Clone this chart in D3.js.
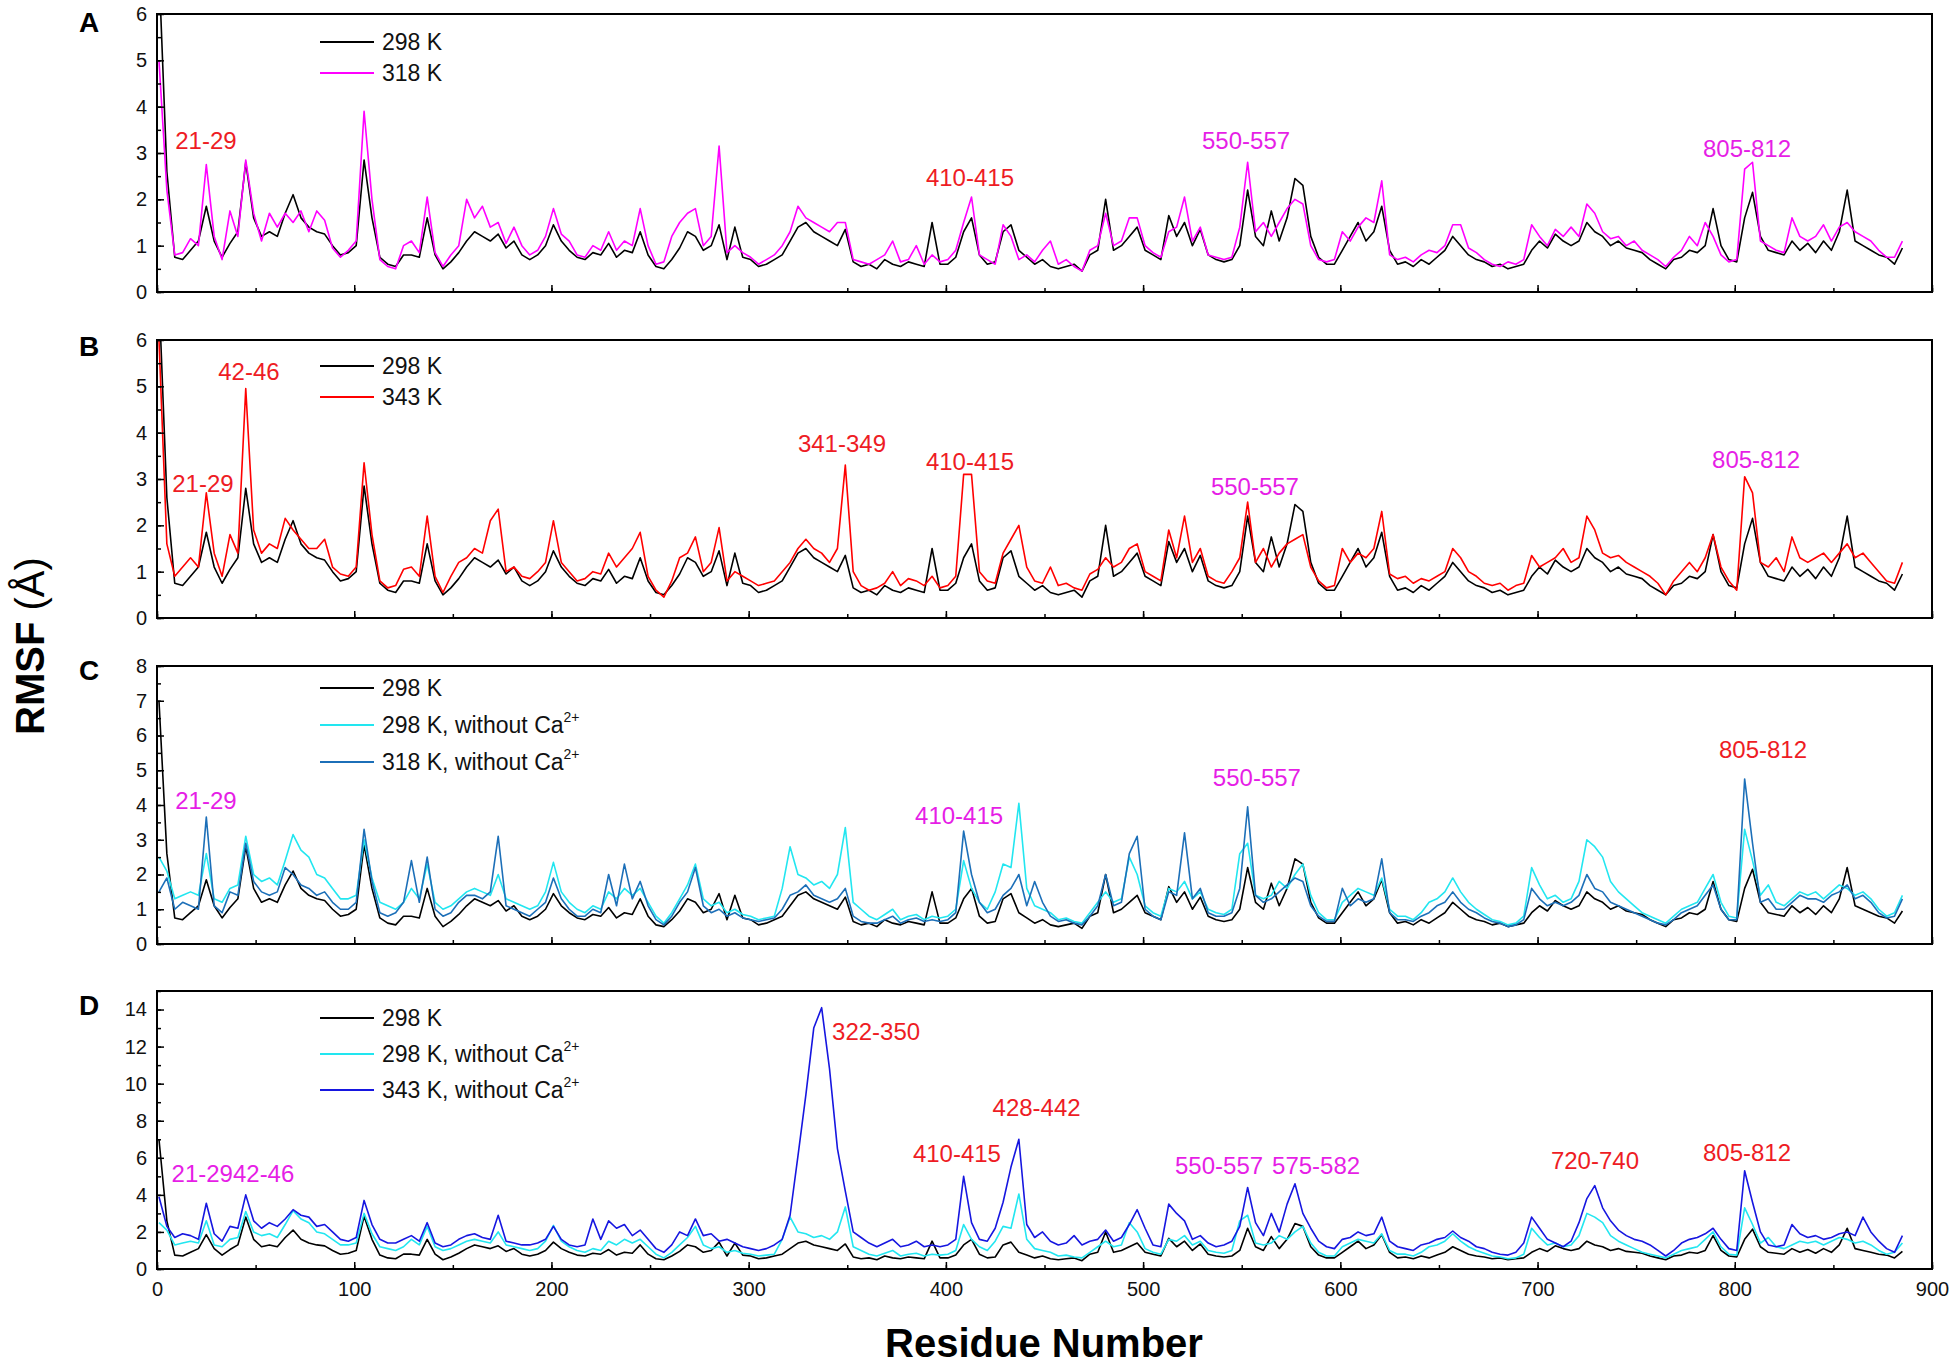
<!doctype html>
<html>
<head>
<meta charset="utf-8">
<script src="https://cdnjs.cloudflare.com/ajax/libs/d3/7.8.5/d3.min.js"></script>
<style>
  body { margin: 0; background: #fff; }
  svg { display: block; font-family: "Liberation Sans", Arial, Helvetica, sans-serif; }
  .tick line { stroke: #000; stroke-width: 1.5; }
</style>
</head>
<body>
<svg id="chart" width="1953" height="1365"></svg>
<script>
// samples are taken every 4th residue: 1, 5, 9 ... 885
var resStart = 1, resStep = 4;

var rmsf298 = [
  7.0, 2.6, 0.75, 0.7, 0.9, 1.1, 1.85, 1.1, 0.75, 1.05,
  1.3, 2.8, 1.6, 1.2, 1.3, 1.2, 1.7, 2.1, 1.6, 1.4,
  1.3, 1.25, 1.0, 0.8, 0.85, 1.0, 2.85, 1.6, 0.75, 0.6,
  0.55, 0.8, 0.8, 0.75, 1.6, 0.8, 0.5, 0.65, 0.85, 1.1,
  1.3, 1.2, 1.1, 1.25, 0.95, 1.1, 0.8, 0.7, 0.8, 1.0,
  1.45, 1.1, 0.9, 0.75, 0.7, 0.85, 0.8, 1.05, 0.75, 0.9,
  0.85, 1.3, 0.8, 0.55, 0.5, 0.7, 0.95, 1.3, 1.2, 0.9,
  1.0, 1.45, 0.7, 1.4, 0.75, 0.7, 0.55, 0.6, 0.7, 0.8,
  1.1, 1.4, 1.5, 1.3, 1.2, 1.1, 1.0, 1.35, 0.65, 0.55,
  0.6, 0.5, 0.7, 0.6, 0.55, 0.65, 0.6, 0.55, 1.5, 0.6,
  0.6, 0.75, 1.3, 1.6, 0.8, 0.6, 0.65, 1.3, 1.45, 0.9,
  0.75, 0.6, 0.7, 0.55, 0.5, 0.55, 0.6, 0.45, 0.8, 0.9,
  2.0, 0.9, 1.0, 1.2, 1.4, 0.9, 0.8, 0.7, 1.65, 1.2,
  1.5, 1.0, 1.35, 0.8, 0.7, 0.65, 0.7, 1.0, 2.2, 1.2,
  1.0, 1.75, 1.1, 1.6, 2.45, 2.3, 1.2, 0.75, 0.6, 0.6,
  0.9, 1.2, 1.5, 1.1, 1.3, 1.85, 0.9, 0.6, 0.65, 0.55,
  0.7, 0.6, 0.75, 0.9, 1.2, 1.0, 0.8, 0.7, 0.65, 0.55,
  0.6, 0.5, 0.55, 0.6, 0.9, 1.1, 0.95, 1.25, 1.1, 1.0,
  1.1, 1.5, 1.3, 1.2, 1.0, 1.1, 0.95, 0.9, 0.85, 0.7,
  0.6, 0.5, 0.7, 0.75, 0.9, 0.85, 1.0, 1.8, 1.0, 0.7,
  0.65, 1.6, 2.15, 1.2, 0.9, 0.85, 0.8, 1.1, 0.9, 1.05,
  0.85, 1.1, 0.9, 1.3, 2.2, 1.1, 1.0, 0.9, 0.8, 0.75,
  0.6, 0.95
];

var rmsf318 = [
  5.0, 2.2, 0.8, 0.85, 1.15, 1.0, 2.75, 1.2, 0.7, 1.75,
  1.2, 2.85, 1.7, 1.1, 1.7, 1.4, 1.7, 1.5, 1.75, 1.3,
  1.75, 1.55, 0.95, 0.75, 0.9, 1.1, 3.9, 2.0, 0.7, 0.55,
  0.5, 1.0, 1.1, 0.85, 2.05, 0.85, 0.55, 0.8, 1.0, 2.0,
  1.6, 1.85, 1.4, 1.5, 1.05, 1.4, 1.0, 0.8, 0.9, 1.2,
  1.8, 1.25, 1.1, 0.8, 0.75, 1.0, 0.9, 1.3, 0.9, 1.1,
  1.0, 1.8, 1.0, 0.6, 0.65, 1.2, 1.5, 1.7, 1.8, 1.0,
  1.2, 3.15, 0.85, 1.0, 0.85, 0.75, 0.6, 0.7, 0.8, 1.0,
  1.3, 1.85, 1.6, 1.5, 1.4, 1.3, 1.5, 1.5, 0.7, 0.65,
  0.6, 0.7, 0.8, 1.1, 0.65, 0.7, 1.0, 0.6, 0.8, 0.65,
  0.7, 0.9, 1.5, 2.05, 0.8, 0.7, 0.6, 1.45, 1.2, 0.7,
  0.8, 0.65, 0.9, 1.1, 0.6, 0.7, 0.55, 0.45, 0.9, 1.0,
  1.7, 1.0, 1.1, 1.6, 1.6, 1.0, 0.85, 0.75, 1.3, 1.4,
  2.05, 1.1, 1.4, 0.8, 0.75, 0.7, 0.75, 1.4, 2.8, 1.3,
  1.5, 1.2, 1.5, 1.8, 2.0, 1.9, 1.0, 0.7, 0.65, 0.7,
  1.3, 1.1, 1.4, 1.6, 1.5, 2.4, 0.8, 0.7, 0.75, 0.65,
  0.8, 0.9, 0.85, 1.0, 1.45, 1.45, 0.95, 0.85, 0.7, 0.6,
  0.55, 0.65, 0.6, 0.7, 1.45, 1.2, 1.0, 1.35, 1.2, 1.4,
  1.2, 1.9, 1.7, 1.3, 1.15, 1.2, 1.0, 1.1, 0.9, 0.8,
  0.7, 0.55, 0.75, 0.9, 1.2, 1.0, 1.5, 1.2, 0.8, 0.65,
  0.7, 2.65, 2.8, 1.1, 1.0, 0.9, 0.85, 1.6, 1.2, 1.1,
  1.2, 1.45, 1.1, 1.4, 1.5, 1.3, 1.2, 1.1, 0.9, 0.75,
  0.75, 1.1
];

var rmsf343 = [
  6.0, 1.6, 0.9, 1.1, 1.3, 1.1, 2.7, 1.4, 0.9, 1.8,
  1.4, 4.95, 1.9, 1.4, 1.6, 1.5, 2.15, 1.9, 1.7, 1.5,
  1.5, 1.7, 1.1, 0.95, 0.9, 1.1, 3.35, 1.8, 0.8, 0.65,
  0.7, 1.05, 1.1, 0.9, 2.2, 0.9, 0.55, 0.9, 1.2, 1.3,
  1.5, 1.4, 2.1, 2.35, 1.0, 1.1, 0.9, 0.85, 1.0, 1.2,
  2.1, 1.2, 1.0, 0.8, 0.85, 1.0, 0.95, 1.4, 1.1, 1.3,
  1.5, 1.85, 0.9, 0.6, 0.45, 0.8, 1.3, 1.4, 1.75, 1.0,
  1.2, 1.95, 0.8, 1.0, 0.9, 0.8, 0.7, 0.75, 0.8, 1.0,
  1.2, 1.5, 1.7, 1.5, 1.4, 1.2, 1.5, 3.3, 1.0, 0.7,
  0.6, 0.65, 0.75, 1.0, 0.7, 0.85, 0.8, 0.7, 0.9, 0.65,
  0.7, 0.9, 3.1, 3.1, 1.0, 0.8, 0.75, 1.4, 1.7, 2.0,
  1.1, 0.8, 0.75, 1.1, 0.7, 0.75, 0.65, 0.6, 0.95, 1.05,
  1.3, 1.1, 1.2, 1.5, 1.6, 1.0, 0.9, 0.8, 1.9, 1.3,
  2.2, 1.2, 1.5, 0.9, 0.8, 0.75, 1.0, 1.3, 2.5, 1.2,
  1.5, 1.1, 1.4, 1.6, 1.7, 1.8, 1.1, 0.8, 0.65, 0.7,
  1.5, 1.2, 1.4, 1.3, 1.5, 2.3, 0.95, 0.85, 0.9, 0.75,
  0.85, 0.8, 0.9, 1.0, 1.5, 1.3, 1.0, 0.9, 0.75, 0.7,
  0.75, 0.6, 0.7, 0.75, 1.35, 1.1, 1.2, 1.3, 1.5, 1.2,
  1.3, 2.2, 1.9, 1.4, 1.3, 1.35, 1.2, 1.1, 1.0, 0.9,
  0.75, 0.5, 0.8, 1.0, 1.2, 1.0, 1.3, 1.8, 1.1, 0.8,
  0.6, 3.05, 2.7, 1.2, 1.1, 1.3, 1.0, 1.75, 1.3, 1.2,
  1.3, 1.4, 1.2, 1.4, 1.6, 1.3, 1.4, 1.2, 1.0, 0.8,
  0.75, 1.2
];

var rmsf298NoCa = [
  2.5, 2.1, 1.3, 1.4, 1.5, 1.4, 2.6, 1.3, 1.2, 1.6,
  1.7, 3.1, 2.0, 1.8, 1.9, 1.7, 2.4, 3.15, 2.7, 2.5,
  2.0, 1.9, 1.6, 1.3, 1.3, 1.4, 3.0, 1.9, 1.2, 1.1,
  1.0, 1.2, 1.6, 1.3, 2.3, 1.2, 1.0, 1.1, 1.3, 1.5,
  1.6, 1.5, 1.4, 2.0, 1.3, 1.2, 1.1, 1.0, 1.1, 1.5,
  2.35, 1.5, 1.2, 1.0, 0.9, 1.1, 1.0, 1.5, 1.3, 1.6,
  1.4, 1.6, 1.2, 0.8, 0.6, 0.9, 1.3, 1.7, 2.3, 1.3,
  1.1, 1.2, 0.9, 1.0, 0.85, 0.8, 0.7, 0.75, 0.8, 1.6,
  2.8, 2.0, 1.9, 1.7, 1.8, 1.6, 2.0, 3.35, 1.2, 1.0,
  0.8, 0.7, 0.85, 1.0, 0.7, 0.8, 0.85, 0.7, 0.8, 0.75,
  0.8, 1.0, 2.4, 1.6, 1.2, 1.0, 1.5, 2.3, 2.2, 4.05,
  1.6, 1.1, 1.0, 0.9, 0.7, 0.75, 0.65, 0.6, 0.9, 1.2,
  1.5, 1.2, 1.3, 2.5, 2.0, 1.1, 0.9, 0.8, 1.6, 1.5,
  1.8, 1.3, 1.5, 1.0, 0.9, 0.85, 1.0, 2.6, 2.9, 1.4,
  1.3, 1.4, 1.8, 1.6, 2.0, 2.3, 1.4, 0.9, 0.7, 0.7,
  1.2, 1.4, 1.6, 1.5, 1.4, 1.9, 1.0, 0.8, 0.8, 0.7,
  0.9, 1.2, 1.3, 1.5, 1.9, 1.5, 1.2, 1.0, 0.85, 0.7,
  0.65, 0.55, 0.6, 0.8, 2.2, 1.7, 1.3, 1.4, 1.2, 1.3,
  1.8, 3.0, 2.8, 2.5, 1.8, 1.5, 1.3, 1.1, 0.9, 0.8,
  0.7, 0.6, 0.8, 1.0, 1.1, 1.2, 1.6, 2.0, 1.2, 0.8,
  0.75, 3.3, 2.4, 1.4, 1.7, 1.2, 1.1, 1.3, 1.5, 1.4,
  1.5, 1.3, 1.5, 1.7, 1.6, 1.4, 1.5, 1.3, 1.0, 0.8,
  0.9, 1.4
];

var rmsf318NoCa = [
  1.5, 1.9, 1.0, 1.2, 1.1, 1.0, 3.65, 1.1, 0.9, 1.5,
  1.4, 2.9, 1.8, 1.5, 1.4, 1.5, 2.2, 2.0, 1.7, 1.6,
  1.4, 1.5, 1.2, 1.0, 1.0, 1.2, 3.3, 1.8, 0.9, 0.8,
  0.9, 1.2, 2.4, 1.2, 2.5, 1.0, 0.8, 0.9, 1.2, 1.4,
  1.4, 1.3, 1.5, 3.1, 1.1, 1.0, 0.9, 0.8, 1.0, 1.2,
  1.9, 1.3, 1.0, 0.8, 0.8, 1.0, 0.9, 2.0, 1.1, 2.3,
  1.3, 1.8, 1.1, 0.7, 0.55, 0.8, 1.2, 1.5, 2.2, 1.1,
  0.9, 1.0, 0.8, 0.9, 0.75, 0.7, 0.65, 0.7, 0.75, 1.0,
  1.4, 1.5, 1.7, 1.4, 1.3, 1.2, 1.3, 1.6, 0.8, 0.65,
  0.6, 0.6, 0.7, 0.8, 0.6, 0.7, 0.75, 0.65, 0.7, 0.65,
  0.7, 0.9, 3.25, 2.0, 1.2, 0.9, 1.0, 1.4, 1.6, 2.0,
  1.1, 1.8, 1.2, 0.8, 0.65, 0.7, 0.6, 0.55, 0.8, 1.1,
  2.0, 1.1, 1.2, 2.6, 3.1, 1.0, 0.8, 0.7, 1.5, 1.4,
  3.2, 1.3, 1.6, 0.9, 0.8, 0.8, 0.9, 1.6, 3.95, 1.4,
  1.2, 1.3, 1.5, 1.7, 1.9, 1.8, 1.1, 0.8, 0.65, 0.65,
  1.6, 1.1, 1.3, 1.2, 1.3, 2.45, 0.9, 0.7, 0.7, 0.65,
  0.8, 0.9, 1.1, 1.2, 1.5, 1.2, 1.0, 0.9, 0.75, 0.65,
  0.6, 0.5, 0.55, 0.7, 1.6, 1.3, 1.1, 1.2, 1.1, 1.2,
  1.4, 2.0, 1.6, 1.5, 1.2, 1.1, 1.0, 0.9, 0.8, 0.7,
  0.6, 0.55, 0.7, 0.9, 1.0, 1.1, 1.4, 1.7, 1.0, 0.7,
  0.7, 4.75, 2.9, 1.2, 1.3, 1.0, 1.0, 1.2, 1.4, 1.3,
  1.3, 1.2, 1.4, 1.5, 1.7, 1.3, 1.4, 1.2, 0.9, 0.75,
  0.8, 1.3
];

var rmsf343NoCa = [
  3.9, 2.3, 1.7, 1.9, 1.8, 1.6, 3.55, 1.9, 1.5, 2.3,
  2.2, 4.0, 2.6, 2.2, 2.5, 2.3, 2.7, 3.2, 2.9, 2.8,
  2.3, 2.4, 2.0, 1.6, 1.5, 1.7, 3.7, 2.4, 1.6, 1.4,
  1.4, 1.6, 1.8, 1.5, 2.5, 1.4, 1.2, 1.3, 1.6, 1.8,
  1.9, 1.7, 1.6, 2.9, 1.5, 1.4, 1.3, 1.3, 1.4, 1.6,
  2.3, 1.6, 1.3, 1.2, 1.3, 2.7, 1.6, 2.6, 2.2, 2.4,
  1.8, 2.1, 1.6, 1.1, 0.9, 1.3, 2.0, 1.8, 2.7, 1.8,
  1.9, 1.5, 1.6, 1.4, 1.2, 1.1, 1.0, 1.1, 1.3, 1.6,
  2.9, 6.1, 9.4, 13.0, 14.1, 10.8, 6.5, 4.2, 2.0, 1.7,
  1.4, 1.2, 1.4, 1.6, 1.2, 1.3, 1.5, 1.2, 1.3, 1.2,
  1.3, 1.6, 5.0, 2.5, 1.6, 1.5, 2.2, 3.6, 5.5, 7.0,
  2.4, 1.7, 2.0, 1.5, 1.3, 1.4, 1.8, 1.3, 1.5, 1.6,
  2.1, 1.5, 1.7, 2.4, 3.2, 2.2, 1.3, 1.2, 3.5, 3.0,
  2.6, 1.6, 1.8, 1.4, 1.2, 1.3, 1.5, 2.3, 4.4, 2.5,
  1.8, 3.0, 2.0, 3.5, 4.6, 3.0, 2.2, 1.5, 1.2, 1.1,
  1.6, 1.7, 2.0, 1.8, 1.9, 2.8, 1.5, 1.2, 1.1, 1.0,
  1.3, 1.4, 1.6, 1.7, 2.05, 1.7, 1.5, 1.2, 1.1, 0.9,
  0.8, 0.75, 0.9, 1.4, 2.8, 2.2, 1.6, 1.4, 1.2, 1.5,
  2.5, 3.8, 4.5, 3.3, 2.6, 2.1, 1.8, 1.6, 1.5, 1.3,
  1.0, 0.7, 1.0, 1.4, 1.6, 1.7, 1.9, 2.2, 1.6, 1.1,
  1.0, 5.3, 3.6, 2.0, 1.3, 1.2, 1.3, 2.4, 1.9, 1.7,
  1.8, 1.6, 1.7, 1.9, 2.0, 1.8, 2.8, 2.0, 1.5, 1.1,
  0.9, 1.8
];

var colBlack = "#000000", colMagenta = "#ff00ff", colRed = "#ff0000",
    colCyan = "#22e6f0", colSteel = "#1c6fb8", colBlue = "#1616e0";
var noteRed = "#ee1c24", noteMagenta = "#e61ee6";

// [label, residue, RMSF] for the region notes
var notesA = [["21-29", 24.8, 3.28, noteRed], ["410-415", 412.2, 2.48, noteRed],
              ["550-557", 552.2, 3.28, noteMagenta], ["805-812", 806.2, 3.09, noteMagenta]];
var notesB = [["42-46", 46.6, 5.31, noteRed], ["21-29", 23.3, 2.91, noteRed],
              ["341-349", 347.3, 3.76, noteRed], ["410-415", 412.2, 3.37, noteRed],
              ["550-557", 556.7, 2.83, noteMagenta], ["805-812", 810.8, 3.43, noteMagenta]];
var notesC = [["21-29", 24.8, 4.12, noteMagenta], ["410-415", 406.7, 3.71, noteMagenta],
              ["550-557", 557.7, 4.78, noteMagenta], ["805-812", 814.3, 5.61, noteRed]];
var notesD = [["21-2942-46", 38.5, 5.13, noteMagenta], ["322-350", 364.6, 12.84, noteRed],
              ["428-442", 446.0, 8.74, noteRed], ["410-415", 405.6, 6.21, noteRed],
              ["550-557", 538.5, 5.56, noteMagenta], ["575-582", 587.7, 5.56, noteMagenta],
              ["720-740", 729.1, 5.83, noteRed], ["805-812", 806.2, 6.26, noteRed]];

var panels = [
  { letter: "A", top: 14, ymax: 6, yStep: 1, yMinor: 0.5, letterDy: 18,
    series: [[rmsf298, colBlack], [rmsf318, colMagenta]],
    legend: [["298 K", "", colBlack], ["318 K", "", colMagenta]], legendY: [28, 59],
    notes: notesA },
  { letter: "B", top: 340, ymax: 6, yStep: 1, yMinor: 0.5, letterDy: 16,
    series: [[rmsf298, colBlack], [rmsf343, colRed]],
    legend: [["298 K", "", colBlack], ["343 K", "", colRed]], legendY: [26, 57],
    notes: notesB },
  { letter: "C", top: 666, ymax: 8, yStep: 1, yMinor: 0.5, letterDy: 14,
    series: [[rmsf298, colBlack], [rmsf298NoCa, colCyan], [rmsf318NoCa, colSteel]],
    legend: [["298 K", "", colBlack], ["298 K, without Ca", "2+", colCyan], ["318 K, without Ca", "2+", colSteel]],
    legendY: [22, 59, 96], notes: notesC },
  { letter: "D", top: 991, ymax: 15, yStep: 2, yMinor: 1, letterDy: 24,
    series: [[rmsf298, colBlack], [rmsf298NoCa, colCyan], [rmsf343NoCa, colBlue]],
    legend: [["298 K", "", colBlack], ["298 K, without Ca", "2+", colCyan], ["343 K, without Ca", "2+", colBlue]],
    legendY: [27, 63, 99], notes: notesD }
];

var svg = d3.select("#chart");
var left = 157, right = 1932, panelH = 278;
var x = d3.scaleLinear().domain([0, 900]).range([left, right]);

function residueOf(i) { return resStart + i * resStep; }

panels.forEach(function(p, k) {
  var y = d3.scaleLinear().domain([0, p.ymax]).range([p.top + panelH, p.top]);
  var g = svg.append("g");

  svg.append("clipPath").attr("id", "clip" + k)
    .append("rect").attr("x", left).attr("y", p.top)
    .attr("width", right - left).attr("height", panelH);

  var line = d3.line()
    .x(function(d, i) { return x(residueOf(i)); })
    .y(function(d) { return y(d); });

  p.series.forEach(function(s) {
    g.append("path")
      .attr("d", line(s[0]))
      .attr("fill", "none")
      .attr("stroke", s[1])
      .attr("stroke-width", 1.6)
      .attr("stroke-linejoin", "round")
      .attr("clip-path", "url(#clip" + k + ")");
  });

  // minor ticks
  g.append("g").attr("transform", "translate(" + left + ",0)")
    .call(d3.axisLeft(y).tickValues(d3.range(0, p.ymax + 0.001, p.yMinor))
      .tickSizeInner(-4).tickSizeOuter(0).tickFormat(""))
    .call(function(a) { a.select(".domain").remove(); });
  g.append("g").attr("transform", "translate(0," + (p.top + panelH) + ")")
    .call(d3.axisBottom(x).tickValues(d3.range(0, 901, 50))
      .tickSizeInner(-4).tickSizeOuter(0).tickFormat(""))
    .call(function(a) { a.select(".domain").remove(); });

  // major ticks and labels
  var ya = g.append("g").attr("transform", "translate(" + left + ",0)")
    .call(d3.axisLeft(y).tickValues(d3.range(0, p.ymax + 0.001, p.yStep))
      .tickSizeInner(-7).tickSizeOuter(0).tickPadding(10).tickFormat(d3.format("d")));
  ya.select(".domain").remove();
  ya.selectAll("text").attr("font-size", 20).attr("font-family", null).attr("fill", "#111");

  var xa = g.append("g").attr("transform", "translate(0," + (p.top + panelH) + ")")
    .call(d3.axisBottom(x).tickValues(d3.range(0, 901, 100))
      .tickSizeInner(-7).tickSizeOuter(0).tickPadding(13).tickFormat(d3.format("d")));
  xa.select(".domain").remove();
  xa.selectAll("text").attr("font-size", 20).attr("font-family", null).attr("fill", "#111");
  if (k < panels.length - 1) xa.selectAll("text").remove();

  // frame
  g.append("rect").attr("x", left).attr("y", p.top)
    .attr("width", right - left).attr("height", panelH)
    .attr("fill", "none").attr("stroke", "#000").attr("stroke-width", 2);

  // panel letter
  g.append("text").attr("x", 79).attr("y", p.top + p.letterDy)
    .attr("font-size", 28).attr("font-weight", "bold").text(p.letter);

  // legend
  p.legend.forEach(function(e, j) {
    var ly = p.top + p.legendY[j];
    g.append("line").attr("x1", 320).attr("x2", 374).attr("y1", ly).attr("y2", ly)
      .attr("stroke", e[2]).attr("stroke-width", 2);
    var t = g.append("text").attr("x", 382).attr("y", ly + 8)
      .attr("font-size", 23).attr("fill", "#111").text(e[0]);
    if (e[1]) t.append("tspan").attr("dy", -11).attr("font-size", 14).text(e[1]);
  });

  // region notes
  g.selectAll(".note").data(p.notes).enter().append("text")
    .attr("class", "note")
    .attr("x", function(d) { return x(d[1]); })
    .attr("y", function(d) { return y(d[2]) + 8.5; })
    .attr("text-anchor", "middle")
    .attr("font-size", 24)
    .attr("fill", function(d) { return d[3]; })
    .text(function(d) { return d[0]; });
});

// axis titles
svg.append("text")
  .attr("transform", "translate(44,646) rotate(-90)")
  .attr("text-anchor", "middle")
  .attr("font-size", 40)
  .call(function(t) {
    t.append("tspan").attr("font-weight", "bold").text("RMSF");
    t.append("tspan").text(" (\u00C5)");
  });

svg.append("text")
  .attr("x", 1044).attr("y", 1357)
  .attr("text-anchor", "middle")
  .attr("font-size", 40).attr("font-weight", "bold")
  .text("Residue Number");
</script>
</body>
</html>
